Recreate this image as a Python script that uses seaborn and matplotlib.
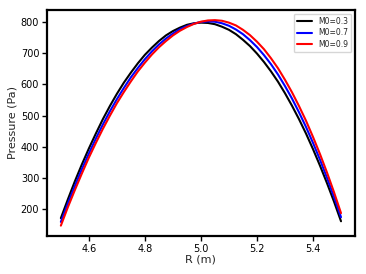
import pandas as pd
import matplotlib
matplotlib.use("Agg")
import matplotlib.pyplot as plt
import seaborn as sns

# radius grid and pressure profiles
r_values = [4.500, 4.525, 4.550, 4.575, 4.600, 4.625, 4.650, 4.675, 4.700, 4.725,
            4.750, 4.775, 4.800, 4.825, 4.850, 4.875, 4.900, 4.925, 4.950, 4.975,
            5.000, 5.025, 5.050, 5.075, 5.100, 5.125, 5.150, 5.175, 5.200, 5.225,
            5.250, 5.275, 5.300, 5.325, 5.350, 5.375, 5.400, 5.425, 5.450, 5.475,
            5.500]
p_m03 = [172, 232, 290, 344, 395, 443, 489, 531, 570, 606,
         638, 668, 695, 718, 739, 757, 771, 782, 791, 796,
         798, 797, 793, 785, 775, 761, 743, 723, 699, 672,
         642, 609, 572, 532, 489, 443, 393, 340, 284, 225,
         162]
p_m07 = [160, 219, 275, 329, 379, 427, 472, 514, 553, 589,
         623, 653, 681, 706, 728, 747, 763, 777, 787, 795,
         800, 802, 801, 796, 788, 776, 761, 742, 720, 694,
         665, 632, 595, 555, 511, 464, 413, 359, 301, 240,
         175]
p_m09 = [148, 207, 262, 315, 366, 413, 458, 500, 540, 576,
         610, 642, 670, 696, 719, 739, 757, 772, 784, 794,
         801, 805, 806, 804, 798, 789, 775, 758, 737, 713,
         684, 652, 615, 575, 531, 484, 432, 377, 318, 255,
         188]
series_labels = ["M0=0.3", "M0=0.7", "M0=0.9"]
colors = ["black", "blue", "red"]

frames = []
for label, vals in zip(series_labels, [p_m03, p_m07, p_m09]):
    frames.append(pd.DataFrame({"R": r_values, "P": vals, "case": label}))
df = pd.concat(frames, ignore_index=True)

sns.set_style("ticks")
plt.rcParams["font.family"] = ["DejaVu Sans"]

fig, ax = plt.subplots(figsize=(3.66, 2.74), dpi=100)
fig.subplots_adjust(left=0.128, right=0.970, bottom=0.139, top=0.964)

sns.lineplot(data=df, x="R", y="P", hue="case", palette=colors,
             linewidth=1.5, ax=ax)

ax.set_xlabel("R (m)", fontsize=8, labelpad=1)
ax.set_ylabel("Pressure (Pa)", fontsize=8, labelpad=2)
ax.set_xticks([4.6, 4.8, 5.0, 5.2, 5.4])
ax.set_yticks([200, 300, 400, 500, 600, 700, 800])
ax.tick_params(labelsize=7, length=3.5, width=1, colors="black", pad=2)
for side in ["left", "right", "top", "bottom"]:
    ax.spines[side].set_visible(True)
    ax.spines[side].set_linewidth(1.6)
    ax.spines[side].set_color("black")

leg = ax.get_legend()
handles = leg.legend_handles
labels = [t.get_text() for t in leg.get_texts()]
ax.legend(handles, labels, loc="upper right", fontsize=5.5, frameon=True,
          handlelength=2.0, borderpad=0.4, labelspacing=0.35)

fig.savefig("out.png", dpi=100)
